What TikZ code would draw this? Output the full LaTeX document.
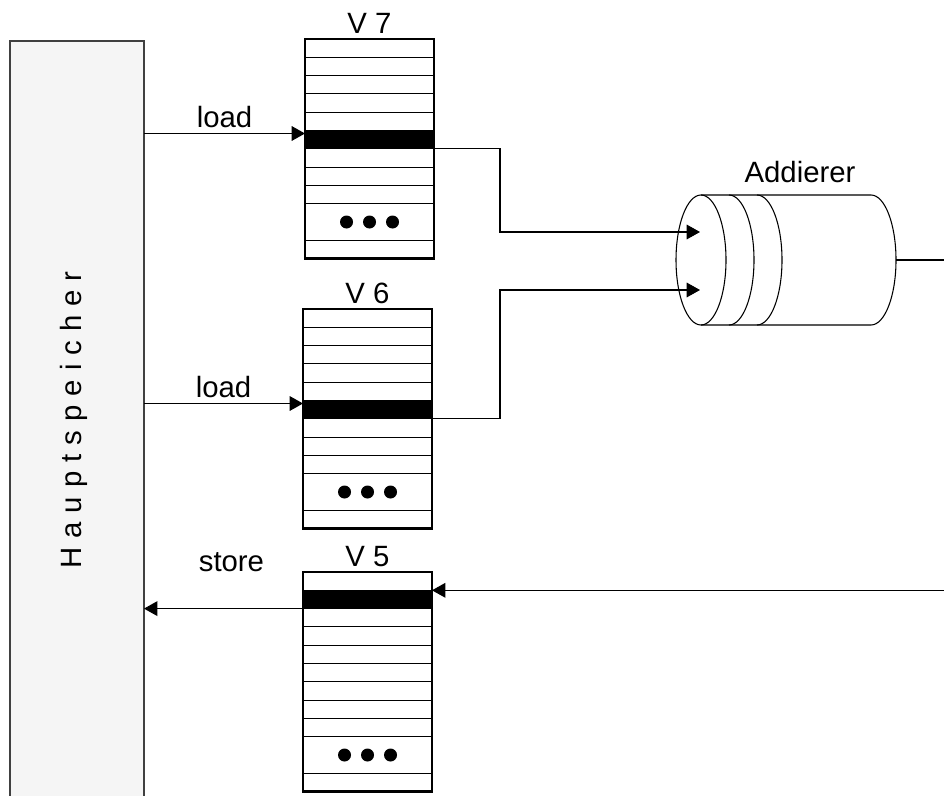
\documentclass[tikz,border=0pt]{standalone}
\usepackage{fontspec}
\setmainfont{Liberation Sans}
\usetikzlibrary{arrows.meta}

\begin{document}
\begin{tikzpicture}[x=0.75pt, y=-0.75pt, >={Triangle[length=10pt, width=11pt]},
  font=\fontsize{22}{26}\selectfont]

  % Colors
  \definecolor{memfill}{HTML}{F5F5F5} % light gray
  \definecolor{memline}{HTML}{404040}

  \def\px{0.75pt} % one pixel
  \def\rh{18.3}   % register row height
  \def\rw{129}    % register width

  \tikzset{
    reg/.style={draw, line width=2pt, anchor=north west, inner sep=0pt, outer sep=0pt,
      minimum width=\rw*\px, minimum height=12*\rh*\px},
    wire/.style={line width=0.8pt},
    lbl/.style={inner sep=4pt},
  }

  \useasboundingbox (0,0) rectangle (944,795);
  \clip (0,0) rectangle (944,795);

  % PART 1: Hauptspeicher
  \node[draw=memline, fill=memfill, line width=1.1pt, inner sep=0pt, outer sep=0pt,
    minimum width=134*\px, minimum height=780*\px] (mem) at (77,431) {};
  \node[rotate=90, font=\fontsize{22}{26}\selectfont\addfontfeature{LetterSpace=3}]
    (memlbl) at (74,420) {H a u p t s p e i c h e r};

  % PART 2: Vector registers
  \foreach \name/\x/\y/\blk/\num in {v7/305/39/5/7, v6/303/309/5/6, v5/303/572/1/5} {
    \node[reg] (\name) at (\x,\y) {};
    \node[above, inner sep=4pt] (\name-lbl) at (\name.north) {V \num};
    % black band = element in use
    \fill ({\x}, {\y+\blk*\rh}) rectangle ++(\rw, \rh);
    \foreach \r in {1,...,9,11}
      \draw[wire] ({\x}, {\y+\r*\rh}) -- ++(\rw, 0);
    \foreach \dx in {-23,0,23}
      \fill ({\x+\rw/2+\dx}, {\y+10*\rh}) circle[radius=6.5];
    % connector ends at the band
    \coordinate (\name-wt) at ({\x}, {\y+\blk*\rh+3});
    \coordinate (\name-wb) at ({\x}, {\y+(\blk+1)*\rh});
    \coordinate (\name-et) at ({\x+\rw}, {\y+\blk*\rh});
    \coordinate (\name-eb) at ({\x+\rw}, {\y+(\blk+1)*\rh});
  }

  % PART 3: Addierer
  \def\ax{701} \def\ay{260} \def\arx{25} \def\ary{65}
  \draw[wire] (\ax,\ay) ellipse[x radius=\arx, y radius=\ary];
  \foreach \dx in {28,56}
    \draw[wire] ({\ax+\dx}, {\ay-\ary}) arc[start angle=-90, end angle=90, x radius=\arx, y radius=\ary];
  \draw[wire] (\ax, \ay-\ary) -- (871, \ay-\ary)
    arc[start angle=-90, end angle=90, x radius=\arx, y radius=\ary] -- (\ax, \ay+\ary);
  \node[anchor=base] (addlbl) at (800,182) {Addierer};

  \coordinate (add-in1) at (700,232);
  \coordinate (add-in2) at (700,290);
  \coordinate (add-out) at (896,\ay);
  \coordinate (bend) at (500,0);
  \coordinate (right-out) at (944,\ay);

  % PART 4: Connections
  \draw[wire, ->] (mem.east |- v7-wt) -- node[above, lbl] (load7) {load} (v7-wt);
  \draw[wire, ->] (mem.east |- v6-wt) -- node[above, lbl] (load6) {load} (v6-wt);
  \draw[wire, ->] (v5-wb) -- node[above=23pt, lbl, pos=0.45] (store) {store} (mem.east |- v5-wb);
  \draw[wire, ->] (v7-eb) -- (v7-eb -| bend) |- (add-in1);
  \draw[wire, ->] (v6-eb) -- (v6-eb -| bend) |- (add-in2);
  \draw[wire] (add-out) -- (right-out);
  \draw[wire, ->] (v5-et -| right-out) -- (v5-et);

\end{tikzpicture}
\end{document}
